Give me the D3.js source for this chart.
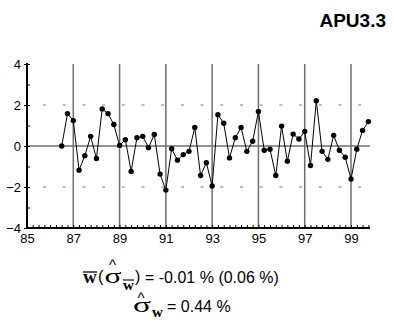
<!DOCTYPE html>
<html><head><meta charset="utf-8">
<script src="https://cdn.jsdelivr.net/npm/d3@7"></script>
<style>body{margin:0;background:#fff}svg{display:block}</style>
</head><body>
<svg id="c" width="394" height="325"></svg>
<script>
const title = "APU3.3";
const years = [86.5,86.75,87,87.25,87.5,87.75,88,88.25,88.5,88.75,
  89,89.25,89.5,89.75,90,90.25,90.5,90.75,91,91.25,
  91.5,91.75,92,92.25,92.5,92.75,93,93.25,93.5,93.75,
  94,94.25,94.5,94.75,95,95.25,95.5,95.75,96,96.25,
  96.5,96.75,97,97.25,97.5,97.75,98,98.25,98.5,98.75,
  99,99.25,99.5,99.75];
const values = [0.0,1.58,1.24,-1.18,-0.47,0.47,-0.61,1.81,1.58,1.05,
  0.03,0.31,-1.24,0.40,0.47,-0.08,0.56,-1.37,-2.15,-0.13,
  -0.69,-0.42,-0.26,0.90,-1.44,-0.82,-1.95,1.53,1.11,-0.58,
  0.40,0.90,-0.26,0.23,1.68,-0.21,-0.16,-1.44,0.97,-0.74,
  0.58,0.34,0.71,-0.95,2.21,-0.26,-0.65,0.52,-0.21,-0.55,
  -1.61,-0.16,0.76,1.19];
const xTickLabels = [85,87,89,91,93,95,97,99];
const gridYears = [87,89,91,93,95,97,99];
const yTickLabels = [-4,-2,0,2,4];
const yMinorTicks = [-3,-1,1,3];
const dashedLevels = [-2,2];
const meanLine = "= -0.01 % (0.06 %)";
const sigmaLine = "= 0.44 %";

const svg = d3.select("#c");
const x = d3.scaleLinear().domain([85, 99]).range([27, 351]);
const y = d3.scaleLinear().domain([-4, 4]).range([228, 64]);
const xEnd = 99.82;

const grid = svg.append("g");
grid.selectAll("line.d").data(dashedLevels).join("line")
  .attr("x1", 43).attr("x2", x(xEnd) - 2)
  .attr("y1", d => y(d)).attr("y2", d => y(d))
  .attr("stroke", "#777").attr("stroke-width", 1)
  .attr("stroke-dasharray", "3,16.7");
grid.selectAll("line.v").data(gridYears).join("line")
  .attr("x1", d => x(d)).attr("x2", d => x(d))
  .attr("y1", y(4)).attr("y2", y(-4))
  .attr("stroke", "#6e6e6e").attr("stroke-width", 1.5);
grid.append("line").attr("x1", x(85)).attr("x2", x(xEnd))
  .attr("y1", y(0)).attr("y2", y(0))
  .attr("stroke", "#6e6e6e").attr("stroke-width", 1.5);

// axes
const quarterTicks = d3.range(85.25, 99.8, 0.25);
const xAxis = d3.axisBottom(x).tickValues(quarterTicks).tickSize(-3).tickFormat("");
const gx = svg.append("g").attr("transform", `translate(0,${y(-4)})`).call(xAxis);
gx.select(".domain").remove();
gx.selectAll(".tick line").attr("stroke", "#000").attr("stroke-width", 1);
svg.append("line").attr("x1", x(85) - 1).attr("x2", x(xEnd))
  .attr("y1", y(-4)).attr("y2", y(-4)).attr("stroke", "#000").attr("stroke-width", 2);

const xLab = d3.axisBottom(x).tickValues(xTickLabels).tickSize(0).tickPadding(0).tickFormat(d3.format("d"));
const gxl = svg.append("g").attr("transform", `translate(0,${y(-4) + 6})`).call(xLab);
gxl.select(".domain").remove();
gxl.selectAll("text").attr("font-family", "Arial, 'Liberation Sans', sans-serif")
  .attr("font-size", 13).attr("fill", "#000").attr("dy", "0.71em");

const yAxis = d3.axisLeft(y).tickValues(yTickLabels).tickSize(3).tickPadding(3).tickFormat(d3.format("d"));
const gy = svg.append("g").attr("transform", `translate(${x(85)},0)`).call(yAxis);
gy.select(".domain").remove();
gy.selectAll(".tick line").attr("stroke", "#000").attr("x2", -3).attr("x1", 3);
gy.selectAll("text").attr("font-family", "Arial, 'Liberation Sans', sans-serif")
  .attr("font-size", 13).attr("fill", "#000");
const yMinor = d3.axisRight(y).tickValues(yMinorTicks).tickSize(3).tickFormat("");
const gym = svg.append("g").attr("transform", `translate(${x(85)},0)`).call(yMinor);
gym.select(".domain").remove();
gym.selectAll(".tick line").attr("stroke", "#000");
svg.append("line").attr("x1", x(85)).attr("x2", x(85))
  .attr("y1", y(4) - 1).attr("y2", y(-4) + 1).attr("stroke", "#000").attr("stroke-width", 2);

// series
const pts = years.map((yr, i) => [yr, values[i]]);
svg.append("path").datum(pts)
  .attr("d", d3.line().x(d => x(d[0])).y(d => y(d[1])))
  .attr("fill", "none").attr("stroke", "#000").attr("stroke-width", 1);
svg.selectAll("circle.p").data(pts).join("circle")
  .attr("cx", d => x(d[0])).attr("cy", d => y(d[1])).attr("r", 2.7).attr("fill", "#000");

// title
svg.append("text").attr("x", 386).attr("y", 27).attr("text-anchor", "end")
  .attr("font-family", "Arial, 'Liberation Sans', sans-serif").attr("font-weight", "bold")
  .attr("font-size", 19).attr("fill", "#000").text(title);

// formulas
const serif = "'Times New Roman', 'Liberation Serif', serif";
const sans = "Arial, 'Liberation Sans', sans-serif";
function part(t, s, o) {
  const ts = t.append("tspan").attr("x", o.x).attr("y", o.y)
    .attr("font-family", o.serif ? serif : sans).attr("font-size", o.size).text(s);
  if (o.bold) ts.attr("font-weight", "bold");
  if (o.len) ts.attr("textLength", o.len).attr("lengthAdjust", "spacingAndGlyphs");
  return ts;
}
const l1 = svg.append("text").attr("fill", "#000");
part(l1, "w", {x: 83, y: 283, serif: true, bold: true, size: 19});
part(l1, "(", {x: 98, y: 282, size: 16});
part(l1, "σ", {x: 104.5, y: 283, serif: true, size: 21, len: 17});
part(l1, "^", {x: 109, y: 269.5, size: 15});
part(l1, "w", {x: 123, y: 290, serif: true, bold: true, size: 15});
part(l1, ")", {x: 135, y: 282, size: 16});
part(l1, meanLine, {x: 145, y: 283, size: 16});
svg.append("line").attr("x1", 83).attr("x2", 97).attr("y1", 272).attr("y2", 272)
  .attr("stroke", "#000").attr("stroke-width", 1.3);
svg.append("line").attr("x1", 123).attr("x2", 134).attr("y1", 280).attr("y2", 280)
  .attr("stroke", "#000").attr("stroke-width", 1.1);

const l2 = svg.append("text").attr("fill", "#000");
part(l2, "σ", {x: 133, y: 312, serif: true, size: 21, len: 18});
part(l2, "^", {x: 137.5, y: 302.5, size: 15});
part(l2, "w", {x: 152, y: 317, serif: true, bold: true, size: 15});
part(l2, sigmaLine, {x: 167, y: 312, size: 16});
</script>
</body></html>
